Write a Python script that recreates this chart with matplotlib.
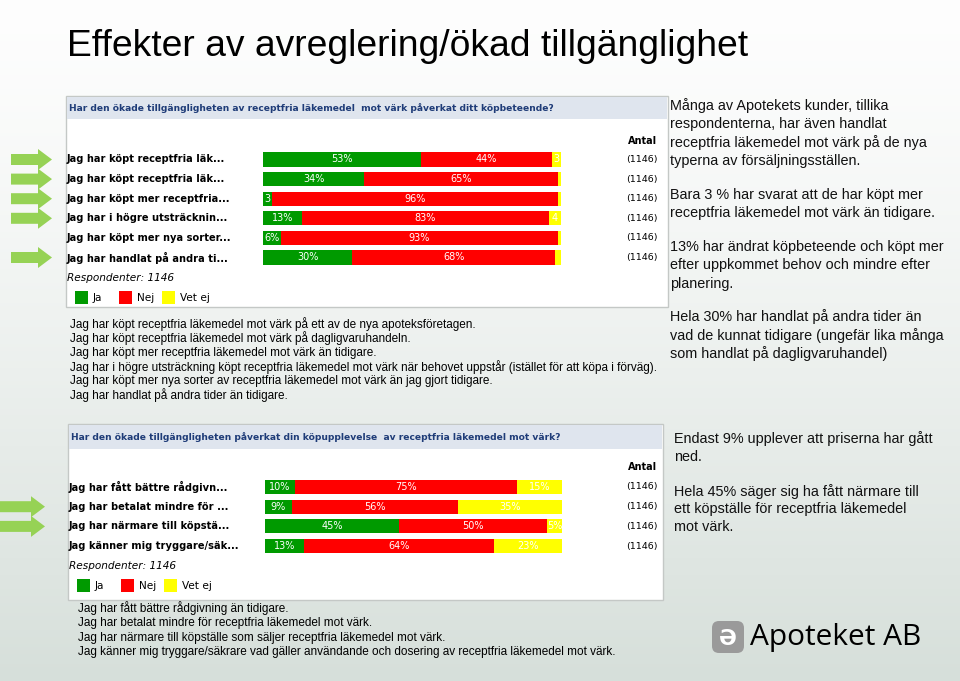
import matplotlib.pyplot as plt
import numpy as np
from matplotlib.patches import Rectangle, FancyArrow, FancyBboxPatch

W, H = 960, 681

# --- data ---
titel = "Effekter av avreglering/ökad tillgänglighet"

fraga1 = "Har den ökade tillgängligheten av receptfria läkemedel  mot värk påverkat ditt köpbeteende?"
rader1 = ["Jag har köpt receptfria läk...", "Jag har köpt receptfria läk...",
          "Jag har köpt mer receptfria...", "Jag har i högre utsträcknin...",
          "Jag har köpt mer nya sorter...", "Jag har handlat på andra ti..."]
ja1 = [53, 34, 3, 13, 6, 30]
nej1 = [44, 65, 96, 83, 93, 68]
vetej1 = [3, 1, 1, 4, 1, 2]
antal1 = [1146, 1146, 1146, 1146, 1146, 1146]
pilar1 = [True, True, True, True, False, True]

fraga2 = "Har den ökade tillgängligheten påverkat din köpupplevelse  av receptfria läkemedel mot värk?"
rader2 = ["Jag har fått bättre rådgivn...", "Jag har betalat mindre för ...",
          "Jag har närmare till köpstä...", "Jag känner mig tryggare/säk..."]
ja2 = [10, 9, 45, 13]
nej2 = [75, 56, 50, 64]
vetej2 = [15, 35, 5, 23]
antal2 = [1146, 1146, 1146, 1146]
pilar2 = [False, True, True, False]

respondenter = 1146
serier = ["Ja", "Nej", "Vet ej"]
farger = ["#009a00", "#ff0000", "#ffff00"]

forklaring1 = [
    "Jag har köpt receptfria läkemedel mot värk på ett av de nya apoteksföretagen.",
    "Jag har köpt receptfria läkemedel mot värk på dagligvaruhandeln.",
    "Jag har köpt mer receptfria läkemedel mot värk än tidigare.",
    "Jag har i högre utsträckning köpt receptfria läkemedel mot värk när behovet uppstår (istället för att köpa i förväg).",
    "Jag har köpt mer nya sorter av receptfria läkemedel mot värk än jag gjort tidigare.",
    "Jag har handlat på andra tider än tidigare.",
]
forklaring2 = [
    "Jag har fått bättre rådgivning än tidigare.",
    "Jag har betalat mindre för receptfria läkemedel mot värk.",
    "Jag har närmare till köpställe som säljer receptfria läkemedel mot värk.",
    "Jag känner mig tryggare/säkrare vad gäller användande och dosering av receptfria läkemedel mot värk.",
]
kommentar1 = [
    ["Många av Apotekets kunder, tillika", "respondenterna, har även handlat",
     "receptfria läkemedel mot värk på de nya", "typerna av försäljningsställen."],
    ["Bara 3 % har svarat att de har köpt mer", "receptfria läkemedel mot värk än tidigare."],
    ["13% har ändrat köpbeteende och köpt mer", "efter uppkommet behov och mindre efter", "planering."],
]
kommentar1b = ["Hela 30% har handlat på andra tider än",
               "vad de kunnat tidigare (ungefär lika många",
               "som handlat på dagligvaruhandel)"]
kommentar2 = [
    ["Endast 9% upplever att priserna har gått", "ned."],
    ["Hela 45% säger sig ha fått närmare till", "ett köpställe för receptfria läkemedel", "mot värk."],
]

fig = plt.figure(figsize=(9.6, 6.81), dpi=100)
bg = fig.add_axes([0, 0, 1, 1])
bg.set_xlim(0, W)
bg.set_ylim(H, 0)
bg.axis("off")

# bakgrund med gradient
c0 = np.array([0.995, 0.995, 0.995])
c1 = np.array([0.84, 0.875, 0.855])
t = np.linspace(0, 1, 200) ** 1.3
grad = (c0[None, :] * (1 - t[:, None]) + c1[None, :] * t[:, None])[:, None, :]
bg.imshow(grad, extent=[0, W, H, 0], aspect="auto", zorder=0)

bg.text(67, 47, titel, fontsize=26.8, family="Liberation Sans", va="center", ha="left")

LBL = dict(family="DejaVu Sans", fontsize=6.6)


def pil(x0, x1, y):
    bg.add_patch(FancyArrow(x0, y, x1 - x0, 0, width=11, head_width=21, head_length=14,
                            length_includes_head=True, color="#96d255", lw=0, zorder=2))


def panel(box, header, fraga, rader, ja, nej, vetej, antal, pilar, barx, rad0, steg,
          antal_y, resp_y, leg_y, pil_x):
    x0, y0, x1, y1 = box
    bg.add_patch(Rectangle((x0, y0), x1 - x0, y1 - y0, fc="white", ec="#c4c8c6", lw=1, zorder=1))
    bg.add_patch(Rectangle((x0 + 1, y0 + 1), x1 - x0 - 2, header, fc="#dfe5ee", ec="none", zorder=1))
    bg.text(x0 + 3, y0 + header / 2 + 1, fraga, color="#1f3c78", fontweight="bold",
            va="center", zorder=3, **LBL)
    bg.text(628, antal_y, "Antal", fontweight="bold", va="center", zorder=3,
            family="DejaVu Sans", fontsize=7)

    n = len(rader)
    yt = rad0 - steg / 2
    yb = rad0 + (n - 0.5) * steg
    ax = fig.add_axes([barx[0] / W, 1 - yb / H, (barx[1] - barx[0]) / W, (yb - yt) / H])
    ax.set_zorder(3)
    ax.patch.set_alpha(0)
    ax.set_xlim(0, 100)
    ax.set_ylim(n - 0.5, -0.5)
    ax.axis("off")
    pos = np.arange(n)
    left = np.zeros(n)
    for vals, col in zip([ja, nej, vetej], farger):
        ax.barh(pos, vals, left=left, height=0.72, color=col, lw=0)
        for i, v in enumerate(vals):
            if v >= 5:
                s = f"{v}%"
            elif v >= 3:
                s = str(v)
            else:
                s = ""
            if s:
                ax.text(left[i] + v / 2, i, s, color="white", ha="center", va="center",
                        family="DejaVu Sans", fontsize=7)
        left = left + np.array(vals)

    for i in range(n):
        y = rad0 + i * steg
        bg.text(x0 + 1, y, rader[i], fontweight="bold", va="center", zorder=3,
                family="DejaVu Sans", fontsize=7.1)
        bg.text(626, y, f"({antal[i]})", va="center", zorder=3,
                family="DejaVu Sans", fontsize=6.8)
        if pilar[i]:
            pil(pil_x[0], pil_x[1], y)

    bg.text(x0 + 1, resp_y, f"Respondenter: {respondenter}", style="italic", va="center",
            zorder=3, family="DejaVu Sans", fontsize=7.6)
    lx = x0 + 9
    for s, col in zip(serier, farger):
        bg.add_patch(Rectangle((lx, leg_y - 6), 13, 13, fc=col, ec="none", zorder=3))
        bg.text(lx + 18, leg_y + 1, s, va="center", zorder=3, family="DejaVu Sans", fontsize=7.6)
        lx += 43.5


panel((66, 96, 668, 307), 22, fraga1, rader1, ja1, nej1, vetej1, antal1, pilar1,
      (263, 561), 159.5, 19.6, 141, 278, 297, (11, 52))
panel((68, 424, 663, 600), 24, fraga2, rader2, ja2, nej2, vetej2, antal2, pilar2,
      (265, 562), 487, 19.7, 467, 566, 585, (0, 45))

for i, s in enumerate(forklaring1):
    bg.text(70, 324 + i * 14.3, s, fontsize=8.45, family="Liberation Sans", va="center")
for i, s in enumerate(forklaring2):
    bg.text(78, 608 + i * 14.8, s, fontsize=8.45, family="Liberation Sans", va="center")

KOM = dict(fontsize=10.4, family="Liberation Sans", va="center", color="#111111")
y = 106
for block in kommentar1:
    for s in block:
        bg.text(670, y, s, **KOM)
        y += 18.2
    y += 16
for i, s in enumerate(kommentar1b):
    bg.text(670, 317 + i * 18.2, s, **KOM)
y = 439
for block in kommentar2:
    for s in block:
        bg.text(674, y, s, **KOM)
        y += 17.6
    y += 17.6

# logo
bg.add_patch(FancyBboxPatch((712, 621), 32, 32, boxstyle="round,pad=0,rounding_size=7",
                            fc="#9a9a9a", ec="none", zorder=2))
bg.text(728, 639, "Ə", color="white", fontsize=15, ha="center", va="center",
        family="DejaVu Sans", fontweight="bold", zorder=3)
bg.text(750, 637, "Apoteket AB", fontsize=21.5, family="Open Sans", va="center", zorder=3)

fig.savefig("out.png", dpi=100)
